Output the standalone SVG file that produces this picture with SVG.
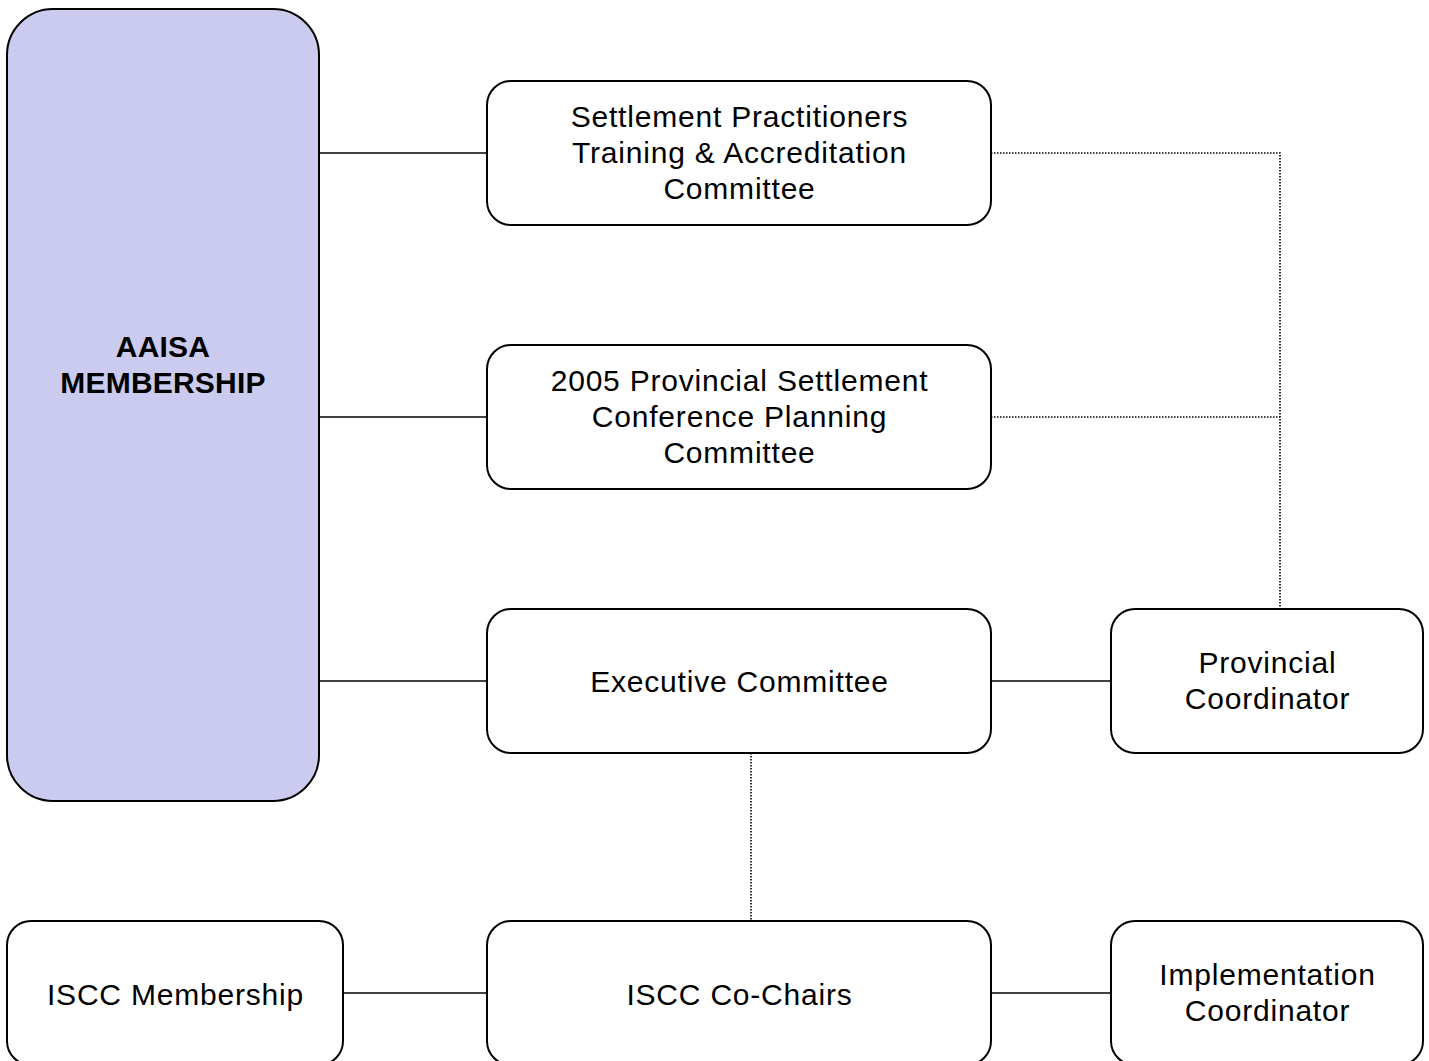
<svg xmlns="http://www.w3.org/2000/svg" width="1429" height="1061" viewBox="0 0 1429 1061">
<style>
.box{fill:#fff;stroke:#000;stroke-width:2}
.main{fill:#cacbee;stroke:#000;stroke-width:2}
.t{font-family:"Liberation Sans",Arial,sans-serif;font-size:30px;letter-spacing:0.8px;text-anchor:middle;fill:#000}
.b{font-weight:bold;letter-spacing:0.2px}
.solid{stroke:#000;stroke-width:1.6;fill:none}
.dot{stroke:#000;stroke-width:1.6;fill:none;stroke-dasharray:1.5 1.5}
</style>
<g id="connectors">
<line class="solid" x1="319" y1="153" x2="487" y2="153"/>
<line class="solid" x1="319" y1="417" x2="487" y2="417"/>
<line class="solid" x1="319" y1="681" x2="487" y2="681"/>
<line class="solid" x1="991" y1="681" x2="1111" y2="681"/>
<line class="solid" x1="343" y1="993" x2="487" y2="993"/>
<line class="solid" x1="991" y1="993" x2="1111" y2="993"/>
<polyline class="dot" points="991,153 1280,153 1280,609"/>
<line class="dot" x1="991" y1="417" x2="1280" y2="417"/>
<line class="dot" x1="751" y1="753" x2="751" y2="921"/>
</g>
<g id="aaisa">
<rect class="main" x="7" y="9" width="312" height="792" rx="46" ry="46"/>
<text class="t b" x="163" y="357">AAISA</text>
<text class="t b" x="163" y="393">MEMBERSHIP</text>
</g>
<g id="sptac">
<rect class="box" x="487" y="81" width="504" height="144" rx="24" ry="24"/>
<text class="t" x="739.5" y="127">Settlement Practitioners</text>
<text class="t" x="739.5" y="163">Training &amp; Accreditation</text>
<text class="t" x="739.5" y="199">Committee</text>
</g>
<g id="conference">
<rect class="box" x="487" y="345" width="504" height="144" rx="24" ry="24"/>
<text class="t" x="739.5" y="391">2005 Provincial Settlement</text>
<text class="t" x="739.5" y="427">Conference Planning</text>
<text class="t" x="739.5" y="463">Committee</text>
</g>
<g id="executive">
<rect class="box" x="487" y="609" width="504" height="144" rx="24" ry="24"/>
<text class="t" x="739.5" y="692">Executive Committee</text>
</g>
<g id="provincial">
<rect class="box" x="1111" y="609" width="312" height="144" rx="24" ry="24"/>
<text class="t" x="1267.5" y="673">Provincial</text>
<text class="t" x="1267.5" y="709">Coordinator</text>
</g>
<g id="iscc-membership">
<rect class="box" x="7" y="921" width="336" height="144" rx="24" ry="24"/>
<text class="t" x="175.5" y="1005">ISCC Membership</text>
</g>
<g id="iscc-cochairs">
<rect class="box" x="487" y="921" width="504" height="144" rx="24" ry="24"/>
<text class="t" x="739.5" y="1005">ISCC Co-Chairs</text>
</g>
<g id="implementation">
<rect class="box" x="1111" y="921" width="312" height="144" rx="24" ry="24"/>
<text class="t" x="1267.5" y="985">Implementation</text>
<text class="t" x="1267.5" y="1021">Coordinator</text>
</g>
</svg>
